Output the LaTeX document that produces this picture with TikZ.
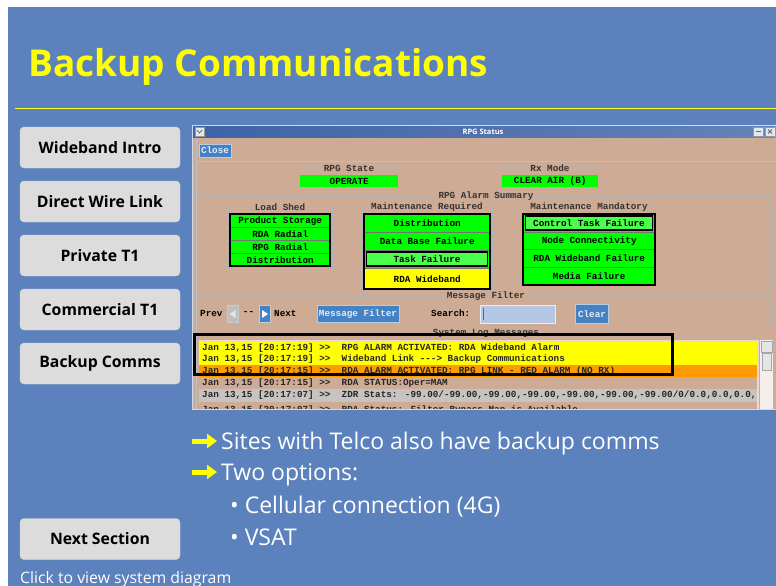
\documentclass[tikz,border=0pt]{standalone}
\usepackage{fontspec}
\setmainfont{Open Sans}
\newfontfamily\rpgfont{Liberation Mono}
\usetikzlibrary{arrows.meta,positioning}
\definecolor{slideBlue}{HTML}{5B82BD}
\definecolor{titleYellow}{HTML}{FFFF00}
\definecolor{btnGray}{HTML}{DCDCDC}
\definecolor{winTan}{HTML}{CDAB94}
\definecolor{okGreen}{HTML}{00FF00}
\definecolor{warnYellow}{HTML}{FFFF00}
\definecolor{alarmOrange}{HTML}{FF9A00}
\definecolor{rowGray}{HTML}{C6C3C0}
\definecolor{xBlue}{HTML}{4582C4}
\definecolor{barBlue}{HTML}{3F63A6}
\definecolor{fieldBlue}{HTML}{B4C8E6}
\tikzset{
	navbtn/.style={draw=black!15, fill=btnGray, rounded corners=4pt, minimum width=160pt,
		minimum height=41pt, inner sep=0pt, font=\bfseries\fontsize{15.8}{16}\selectfont},
	rpgtxt/.style={font=\rpgfont\bfseries\fontsize{9.3}{10}\selectfont, inner sep=0pt},
	grplbl/.style={rpgtxt, fill=winTan, inner xsep=2pt, text=black!80},
	grpframe/.style={draw=black!30, line width=0.6pt},
	okcell/.style={rpgtxt, fill=okGreen, draw=black!55, line width=0.4pt, anchor=north west},
	bluebtn/.style={rpgtxt, fill=xBlue, draw=white!60!xBlue, line width=1pt, text=white!85!xBlue},
	logtxt/.style={rpgtxt, anchor=west, text=black!85},
	bullettxt/.style={text=white, font=\fontsize{23}{26}\selectfont, anchor=base west, inner sep=0pt},
	yarrow/.style={titleYellow, line width=5pt, -{Triangle[width=14pt,length=10pt]}}
}
\begin{document}
\begin{tikzpicture}[x=1pt,y=-1pt]
	\useasboundingbox (0,0) rectangle (776,586);
	\fill[white] (0,0) rectangle (776,586);
	\fill[slideBlue] (8,7) rectangle (776,586);
	
	\node[anchor=base west, inner sep=0pt, text=titleYellow,
		font=\bfseries\fontsize{37}{40}\selectfont] (title) at (28,77) {Backup Communications};
	\draw[titleYellow!85!white, line width=0.8pt] (15,108) -- (776,108);
	
	% side buttons
	\node[navbtn] (wbintro) at (100,147.5) {Wideband Intro};
	\node[navbtn] (dwlink) at (100,201.5) {Direct Wire Link};
	\node[navbtn] (privt) at (100,255.5) {Private T1};
	\node[navbtn] (commt) at (100,309.5) {Commercial T1};
	\node[navbtn] (bkcomms) at (100,363.5) {Backup Comms};
	\node[navbtn] (nextsec) at (100,539) {Next Section};
	
	% RPG Status window
	\fill[winTan] (192,125) rectangle (776,409);
	\draw[white!70!slideBlue, line width=1pt] (192,125) rectangle (776,409);
	\shade[left color=barBlue, right color=barBlue!80!white] (193,126) rectangle (775,137);
	\node[text=white, inner sep=0pt, font=\bfseries\fontsize{7.5}{8}\selectfont] (wintitle) at (483,131.5) {RPG Status};
	\draw[fill=white!85!barBlue, draw=black!40] (195,127) rectangle (204,136);
	\draw[black!60, line width=0.8pt] (197,130) -- (199.5,133) -- (202,130);
	\draw[fill=white!85!barBlue, draw=black!40] (753,127) rectangle (763,136);
	\draw[fill=white!85!barBlue, draw=black!40] (765,127) rectangle (775,136);
	\draw[black!60, line width=1pt] (755.5,131.5) -- (760.5,131.5);
	\draw[black!60, line width=1pt] (768,129.5) -- (772,133.5) (768,133.5) -- (772,129.5);
	\draw[black!25] (196,138) -- (196,409);
	\node[bluebtn, minimum width=32pt, minimum height=13pt] (closebtn) at (215,150.5) {Close};
	\draw[black!25] (196,161) -- (776,161);
	
	% RPG State / Rx Mode
	\draw[grpframe] (299,189) -- (299,168) -- (399,168) -- (399,189);
	\node[grplbl] (rpgstatelbl) at (349,168) {RPG State};
	\node[okcell, draw=none, minimum width=98pt, minimum height=12pt] (opstate) at (300,175) {OPERATE};
	\draw[grpframe] (501,189) -- (501,168) -- (599,168) -- (599,189);
	\node[grplbl] (rxmodelbl) at (550,168) {Rx Mode};
	\node[okcell, draw=none, minimum width=96pt, minimum height=12pt] (rxmode) at (502,175) {CLEAR AIR (B)};
	
	% alarm summary
	\draw[grpframe] (197,292) -- (197,196) -- (770,196) -- (770,292);
	\node[grplbl] (alarmlbl) at (486,196) {RPG Alarm Summary};
	\draw[grpframe] (228,270) -- (228,207) -- (332,207) -- (332,270);
	\node[grplbl] (loadlbl) at (280,207) {Load Shed};
	\draw[grpframe] (362,292) -- (362,207) -- (492,207) -- (492,292);
	\node[grplbl] (reqlbl) at (427,207) {Maintenance Required};
	\draw[grpframe] (521,288) -- (521,207) -- (657,207) -- (657,288);
	\node[grplbl] (mandlbl) at (589,207) {Maintenance Mandatory};
	
	% load shed
	\node[okcell, minimum width=100pt, minimum height=13pt] (ls1) at (230,214) {Product Storage};
	\node[okcell, minimum width=100pt, minimum height=13pt] (ls2) at (230,227) {RDA Radial};
	\node[okcell, minimum width=100pt, minimum height=13pt] (ls3) at (230,240) {RPG Radial};
	\node[okcell, minimum width=100pt, minimum height=13pt] (ls4) at (230,253) {Distribution};
	\draw[line width=2pt] (230,214) rectangle (330,266);
	
	% maintenance required
	\node[okcell, minimum width=126pt, minimum height=18pt] (mr1) at (364,214) {Distribution};
	\node[okcell, minimum width=126pt, minimum height=18pt] (mr2) at (364,232) {Data Base Failure};
	\node[okcell, minimum width=126pt, minimum height=18pt] (mr3) at (364,250) {Task Failure};
	\draw[line width=1.5pt, fill=okGreen!70!white] (366.5,252) rectangle (487.5,266);
	\node[rpgtxt] at (427,259) {Task Failure};
	\node[okcell, fill=warnYellow, minimum width=126pt, minimum height=21pt] (mr4) at (364,268) {RDA Wideband};
	\draw[line width=2pt] (364,214) rectangle (490,289);
	
	% maintenance mandatory
	\node[okcell, minimum width=132pt, minimum height=18pt] (mm1) at (523,214) {Control Task Failure};
	\draw[line width=1.5pt, fill=okGreen!70!white] (525.5,216) rectangle (652.5,230);
	\node[rpgtxt] at (589,223) {Control Task Failure};
	\node[okcell, minimum width=132pt, minimum height=17pt] (mm2) at (523,232) {Node Connectivity};
	\node[okcell, minimum width=132pt, minimum height=18pt] (mm3) at (523,249) {RDA Wideband Failure};
	\node[okcell, minimum width=132pt, minimum height=18pt] (mm4) at (523,267) {Media Failure};
	\draw[line width=2pt] (523,214) rectangle (655,285);
	
	% message filter
	\draw[grpframe] (197,328) -- (197,296) -- (770,296) -- (770,328);
	\node[grplbl] (filterlbl) at (486,296) {Message Filter};
	\node[rpgtxt, anchor=west] (prevlbl) at (200,313.5) {Prev};
	\node[rpgtxt, fill=black!25, draw=white!80!black, minimum width=11pt, minimum height=17pt] (prevbtn) at (232.5,314) {};
	\fill[white!90!black] (229.5,314) -- (235.5,310) -- (235.5,318) -- cycle;
	\node[rpgtxt] (dashlbl) at (248.5,313.5) {--};
	\node[rpgtxt, fill=xBlue, draw=white!80!black, minimum width=11pt, minimum height=17pt] (nextbtn) at (264.5,314) {};
	\fill[white] (268,314) -- (262,310) -- (262,318) -- cycle;
	\node[rpgtxt, anchor=west] (nextlbl) at (274,313.5) {Next};
	\node[bluebtn, minimum width=82pt, minimum height=17pt] (filterbtn) at (358,314) {Message Filter};
	\node[rpgtxt, anchor=west] (searchlbl) at (431,313.5) {Search:};
	\node[fill=fieldBlue, draw=white!70!fieldBlue, minimum width=75pt, minimum height=18pt, inner sep=0pt] (searchbox) at (518,314) {};
	\draw[black!60] (483,308) -- (483,320);
	\node[bluebtn, minimum width=33pt, minimum height=19pt] (clearbtn) at (592,314) {Clear};
	
	% system log
	\draw[grpframe] (197,409) -- (197,333) -- (776,333);
	\node[grplbl] (loglbl) at (486,333) {System Log Messages};
	\fill[white!55!winTan] (199,340) rectangle (759,409);
	\begin{scope}
		\clip (199,341) rectangle (759,408);
		\fill[warnYellow] (199,342) rectangle (757,353.5);
		\fill[warnYellow] (199,353.5) rectangle (757,365);
		\fill[alarmOrange] (199,365) rectangle (757,377);
		\fill[winTan] (199,377) rectangle (757,389);
		\fill[rowGray] (199,389) rectangle (757,401.5);
		\fill[winTan] (199,401.5) rectangle (757,412);
		\node[logtxt] (log1) at (202,348) {Jan 13,15 [20:17:19] >>~~RPG ALARM ACTIVATED: RDA Wideband Alarm};
		\node[logtxt] (log2) at (202,359.5) {Jan 13,15 [20:17:19] >>~~Wideband Link ---> Backup Communications};
		\node[logtxt] (log3) at (202,371) {Jan 13,15 [20:17:15] >>~~RDA ALARM ACTIVATED: RPG LINK - RED ALARM (NO RX)};
		\node[logtxt] (log4) at (202,383) {Jan 13,15 [20:17:15] >>~~RDA STATUS:Oper=MAM};
		\node[logtxt] (log5) at (202,395.5) {Jan 13,15 [20:17:07] >>~~ZDR Stats: -99.00/-99.00,-99.00,-99.00,-99.00,-99.00,-99.00/0/0.0,0.0,0.0,};
		\node[logtxt] (log6) at (202,410) {Jan 13,15 [20:17:07] >>~~RDA Status: Filter Bypass Map is Available};
	\end{scope}
	\fill[white!80!winTan] (760,340) rectangle (773,409);
	\draw[black!35, fill=white!90!black] (761,341) rectangle (772,352);
	\draw[black!35, fill=white!90!black] (762,353) rectangle (771,370);
	\draw[line width=3pt] (194.5,334.5) rectangle (672.5,374.5);
	
	% bullets
	\draw[yarrow] (192,441) -- (217,441);
	\node[bullettxt] (pt1) at (221,449) {Sites with Telco also have backup comms};
	\draw[yarrow] (192,472) -- (217,472);
	\node[bullettxt] (pt2) at (221,480) {Two options:};
	\node[bullettxt] (pt3) at (230,513) {\textbullet\ Cellular connection (4G)};
	\node[bullettxt] (pt4) at (230,545) {\textbullet\ VSAT};
	\node[anchor=base west, inner sep=0pt, text=white, font=\fontsize{15.8}{16}\selectfont] (diaglink) at (20,583) {Click to view system diagram};
\end{tikzpicture}
\end{document}
